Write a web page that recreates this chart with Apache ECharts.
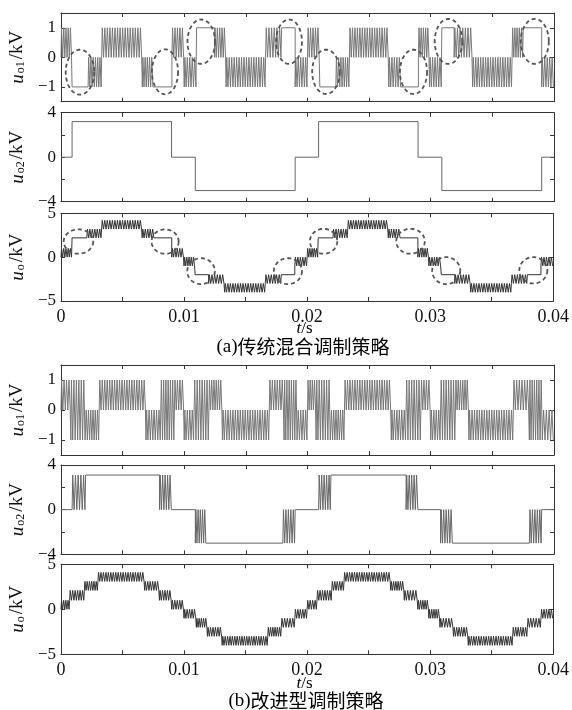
<!DOCTYPE html>
<html><head><meta charset="utf-8">
<script src="https://cdn.jsdelivr.net/npm/echarts@6/dist/echarts.min.js"></script>
<style>html,body{margin:0;padding:0;background:#fff}#c{width:572px;height:710px}</style>
</head><body><div id="c"></div>
<script>
// ---------- DATA ----------
const xTickValues = [0.005, 0.01, 0.015, 0.02, 0.025, 0.03, 0.035];
const xLabelValues = [0, 0.01, 0.02, 0.03, 0.04];
const yTicksO1 = [-1, 0, 1];
const yTicksO2Labels = [-4, 0, 4];
const yTicksO2 = [-4, -2, 0, 2, 4];
const yTicksO = [-5, 0, 5];

// segments: [t start, t end, low level, high level, pulse count]  (count 0 = constant at low level)
const A_uo1 = [
  [0, 0.0009, 0, 1, 5], [0.0009, 0.0022, -1, -1, 0], [0.0022, 0.0033, -1, 0, 6],
  [0.0033, 0.0066, 0, 1, 16], [0.0066, 0.0075, -1, 0, 5], [0.0075, 0.0090, -1, -1, 0],
  [0.0090, 0.0100, 0, 1, 5], [0.0100, 0.0110, -1, 0, 5], [0.0110, 0.01245, 1, 1, 0],
  [0.01245, 0.0134, 0, 1, 5], [0.0134, 0.0166, -1, 0, 16], [0.0166, 0.0179, 0, 1, 6],
  [0.0179, 0.0190, 1, 1, 0], [0.0190, 0.0200, -1, 0, 5], [0.0200, 0.0210, 0, 1, 5],
  [0.0210, 0.0223, -1, -1, 0], [0.0223, 0.0234, -1, 0, 6], [0.0234, 0.0266, 0, 1, 16],
  [0.0266, 0.0276, -1, 0, 5], [0.0276, 0.0290, -1, -1, 0], [0.0290, 0.0299, 0, 1, 5],
  [0.0299, 0.0309, -1, 0, 5], [0.0309, 0.0319, 1, 1, 0], [0.0319, 0.0334, 0, 1, 7],
  [0.0334, 0.0366, -1, 0, 16], [0.0366, 0.0375, 0, 1, 5], [0.0375, 0.0390, 1, 1, 0],
  [0.0390, 0.0400, -1, 0, 5]
];
const A_uo2 = [
  [0, 0.0009, 0, 0, 0], [0.0009, 0.00897, 3.2, 3.2, 0], [0.00897, 0.0109, 0, 0, 0],
  [0.0109, 0.0190, -3, -3, 0], [0.0190, 0.0209, 0, 0, 0], [0.0209, 0.02897, 3.2, 3.2, 0],
  [0.02897, 0.0309, 0, 0, 0], [0.0309, 0.0390, -3, -3, 0], [0.0390, 0.0400, 0, 0, 0]
];
const A_uo = [
  [0, 0.0009, 0, 1, 5], [0.0009, 0.0021, 2.2, 2.2, 0], [0.0021, 0.0033, 2.2, 3.2, 6],
  [0.0033, 0.0066, 3.2, 4.2, 16], [0.0066, 0.0076, 2.2, 3.2, 5], [0.0076, 0.0090, 2.2, 2.2, 0],
  [0.0090, 0.0100, 0, 1, 5], [0.0100, 0.0109, -1, 0, 5], [0.0109, 0.0120, -2, -2, 0],
  [0.0120, 0.0133, -3, -2, 6], [0.0133, 0.0166, -4, -3, 16], [0.0166, 0.0179, -3, -2, 6],
  [0.0179, 0.0190, -2, -2, 0], [0.0190, 0.0200, -1, 0, 5], [0.0200, 0.0209, 0, 1, 5],
  [0.0209, 0.0221, 2.2, 2.2, 0], [0.0221, 0.0233, 2.2, 3.2, 6], [0.0233, 0.0266, 3.2, 4.2, 16],
  [0.0266, 0.0276, 2.2, 3.2, 5], [0.0276, 0.0290, 2.2, 2.2, 0], [0.0290, 0.0299, 0, 1, 5],
  [0.0299, 0.0309, -1, 0, 5], [0.0309, 0.0320, -2, -2, 0], [0.0320, 0.0333, -3, -2, 6],
  [0.0333, 0.0366, -4, -3, 16], [0.0366, 0.0379, -3, -2, 6], [0.0379, 0.0390, -2, -2, 0],
  [0.0390, 0.0400, -1, 0, 5]
];
const B_uo1 = [
  [0, 0.0008, 0, 1, 4], [0.0008, 0.0020, -1, 1, 6], [0.0020, 0.0031, -1, 0, 6],
  [0.0031, 0.0069, 0, 1, 19], [0.0069, 0.0081, -1, 0, 6], [0.0081, 0.0092, -1, 1, 6],
  [0.0092, 0.0100, 0, 1, 4], [0.0100, 0.0108, -1, 0, 4], [0.0108, 0.0120, -1, 1, 6],
  [0.0120, 0.0131, 0, 1, 6], [0.0131, 0.0169, -1, 0, 19], [0.0169, 0.0181, 0, 1, 6],
  [0.0181, 0.0192, -1, 1, 6], [0.0192, 0.0200, -1, 0, 4], [0.0200, 0.0207, 0, 1, 4],
  [0.0207, 0.0219, -1, 1, 6], [0.0219, 0.0230, -1, 0, 6], [0.0230, 0.0268, 0, 1, 19],
  [0.0268, 0.0280, -1, 0, 6], [0.0280, 0.0292, -1, 1, 6], [0.0292, 0.0300, 0, 1, 4],
  [0.0300, 0.0308, -1, 0, 4], [0.0308, 0.0320, -1, 1, 6], [0.0320, 0.0331, 0, 1, 6],
  [0.0331, 0.0367, -1, 0, 18], [0.0367, 0.0380, 0, 1, 6], [0.0380, 0.0391, -1, 1, 6],
  [0.0391, 0.0400, -1, 0, 4]
];
const B_uo2 = [
  [0, 0.0009, 0, 0, 0], [0.0009, 0.0020, 0, 3.1, 5], [0.0020, 0.0080, 3.1, 3.1, 0],
  [0.0080, 0.0090, 0, 3.1, 5], [0.0090, 0.0109, 0, 0, 0], [0.0109, 0.0118, -3, 0, 5],
  [0.0118, 0.0180, -3, -3, 0], [0.0180, 0.0190, -3, 0, 5], [0.0190, 0.0209, 0, 0, 0],
  [0.0209, 0.0219, 0, 3.1, 5], [0.0219, 0.0280, 3.1, 3.1, 0], [0.0280, 0.0290, 0, 3.1, 5],
  [0.0290, 0.0308, 0, 0, 0], [0.0308, 0.0318, -3, 0, 5], [0.0318, 0.0380, -3, -3, 0],
  [0.0380, 0.0390, -3, 0, 5], [0.0390, 0.0400, 0, 0, 0]
];
const B_uo = [
  [0, 0.0007, 0, 1, 4], [0.0007, 0.0019, 1, 2.1, 6], [0.0019, 0.0030, 2.1, 3.1, 6],
  [0.0030, 0.0068, 3.1, 4.1, 19], [0.0068, 0.0080, 2.1, 3.1, 6], [0.0080, 0.0090, 1, 2.1, 5],
  [0.0090, 0.0100, 0, 1, 5], [0.0100, 0.0110, -1, 0, 5], [0.0110, 0.0119, -2, -1, 5],
  [0.0119, 0.0131, -3, -2, 6], [0.0131, 0.0168, -4, -3, 19], [0.0168, 0.0179, -3, -2, 6],
  [0.0179, 0.0190, -2, -1, 5], [0.0190, 0.0200, -1, 0, 5], [0.0200, 0.0208, 0, 1, 4],
  [0.0208, 0.0220, 1, 2.1, 6], [0.0220, 0.0230, 2.1, 3.1, 5], [0.0230, 0.0268, 3.1, 4.1, 19],
  [0.0268, 0.0279, 2.1, 3.1, 6], [0.0279, 0.0290, 1, 2.1, 5], [0.0290, 0.0299, 0, 1, 5],
  [0.0299, 0.0308, -1, 0, 5], [0.0308, 0.0319, -2, -1, 5], [0.0319, 0.0331, -3, -2, 6],
  [0.0331, 0.0367, -4, -3, 18], [0.0367, 0.0379, -3, -2, 6], [0.0379, 0.0390, -2, -1, 5],
  [0.0390, 0.0400, -1, 0, 5]
];
// dashed ellipse annotations: [t centre, value centre, t radius, value radius]
const ellipsesA1 = [
  [0.00154, -0.50, 0.00116, 0.76], [0.00844, -0.49, 0.00106, 0.76],
  [0.01138, 0.53, 0.00112, 0.75], [0.01850, 0.53, 0.00105, 0.75],
  [0.02150, -0.49, 0.00112, 0.75], [0.02860, -0.49, 0.00110, 0.75],
  [0.03144, 0.54, 0.00112, 0.76], [0.03844, 0.54, 0.00114, 0.76]
];
const ellipsesA3 = [
  [0.00142, 1.78, 0.00120, 1.39], [0.00846, 1.78, 0.00110, 1.39],
  [0.01138, -1.60, 0.00112, 1.48], [0.01844, -1.60, 0.00114, 1.48],
  [0.02134, 1.81, 0.00111, 1.42], [0.02840, 1.81, 0.00116, 1.42],
  [0.03130, -1.54, 0.00114, 1.54], [0.03838, -1.50, 0.00114, 1.50]
];

// ---------- BUILD ----------
function buildSteps(segs) {
  const pts = [];
  for (const [t0, t1, lo, hi, n] of segs) {
    if (!n) { pts.push([t0, lo], [t1, lo]); continue; }
    const p = (t1 - t0) / n;
    pts.push([t0, lo]);
    for (let k = 0; k < n; k++) {
      const a = t0 + k * p + p * 0.25, b = t0 + k * p + p * 0.75;
      pts.push([a, lo], [a, hi], [b, hi], [b, lo]);
    }
    pts.push([t1, lo]);
  }
  return pts;
}
const SERIF = '"Liberation Serif", "Times New Roman", "DejaVu Serif", serif';
const AX = '#333';
const grids = [
  { top: 13, height: 88.7 }, { top: 112.7, height: 89 }, { top: 213.3, height: 87.7 },
  { top: 365, height: 90 }, { top: 465, height: 89.3 }, { top: 564.3, height: 90 }
];
const plots = [
  { data: A_uo1, min: -1.5, max: 1.5, labels: yTicksO1, ticks: yTicksO1, sub: 'o1', color: '#777' },
  { data: A_uo2, min: -4, max: 4, labels: yTicksO2Labels, ticks: yTicksO2, sub: 'o2', color: '#666' },
  { data: A_uo, min: -5, max: 5, labels: yTicksO, ticks: yTicksO, sub: 'o', color: '#333', xl: true },
  { data: B_uo1, min: -1.5, max: 1.5, labels: yTicksO1, ticks: yTicksO1, sub: 'o1', color: '#777' },
  { data: B_uo2, min: -4, max: 4, labels: yTicksO2Labels, ticks: yTicksO2, sub: 'o2', color: '#666' },
  { data: B_uo, min: -5, max: 5, labels: yTicksO, ticks: yTicksO, sub: 'o', color: '#333', xl: true }
];
const fmtY = v => (v < 0 ? '\u2212' + Math.abs(v) : String(v));
const nameRich = {
  u: { fontFamily: SERIF, fontStyle: 'italic', fontSize: 19, color: '#111' },
  s: { fontFamily: SERIF, fontSize: 12, color: '#111', verticalAlign: 'bottom', padding: [0, 2, 0, 1] },
  k: { fontFamily: SERIF, fontSize: 19, color: '#111' }
};
const xAxis = [], yAxis = [], grid = [], series = [];
plots.forEach((p, i) => {
  grid.push({ left: 54.5, width: 499.5, top: grids[i].top, height: grids[i].height });
  [false, true].forEach(top => {
    xAxis.push({
      type: 'value', gridIndex: i, min: 0, max: 0.04, position: top ? 'top' : 'bottom',
      axisLine: { show: true, onZero: false, lineStyle: { color: AX, width: 1 } },
      axisTick: { show: true, inside: true, length: 4, customValues: xTickValues, lineStyle: { color: AX } },
      axisLabel: { show: !top && !!p.xl, customValues: xLabelValues, margin: 7,
        formatter: v => (v === 0 ? '0' : v.toFixed(2)), fontFamily: SERIF, fontSize: 18, color: '#111' },
      splitLine: { show: false }
    });
    yAxis.push({
      type: 'value', gridIndex: i, min: p.min, max: p.max, position: top ? 'right' : 'left',
      axisLine: { show: true, onZero: false, lineStyle: { color: AX, width: 1 } },
      axisTick: { show: true, inside: true, length: 4, customValues: p.ticks, lineStyle: { color: AX } },
      axisLabel: { show: !top, customValues: p.labels, formatter: fmtY, margin: 5,
        fontFamily: SERIF, fontSize: 17, color: '#111' },
      splitLine: { show: false },
      name: top ? '' : '{u|u}{s|' + p.sub + '}{k|/kV}', nameLocation: 'middle', nameGap: 27, nameRotate: 90,
      nameTextStyle: { rich: nameRich }
    });
  });
  series.push({
    type: 'line', xAxisIndex: 2 * i, yAxisIndex: 2 * i, data: buildSteps(p.data),
    showSymbol: false, symbol: 'none', silent: true,
    lineStyle: { color: p.color, width: 1 }, z: 2
  });
});
function ellipseRender(params, api) {
  const c = api.coord([api.value(0), api.value(1)]);
  const s = api.size([api.value(2), api.value(3)]);
  const pts = [];
  for (let k = 0; k <= 72; k++) {
    const a = k / 72 * Math.PI * 2;
    pts.push([c[0] + s[0] * Math.cos(a), c[1] + s[1] * Math.sin(a)]);
  }
  return { type: 'polyline', shape: { points: pts },
    style: { stroke: '#555', lineWidth: 1.8, lineDash: [4, 3], fill: null } };
}
series.push({ type: 'custom', xAxisIndex: 0, yAxisIndex: 0, data: ellipsesA1, renderItem: ellipseRender,
  encode: { x: 0, y: 1 }, clip: false, silent: true, z: 5 });
series.push({ type: 'custom', xAxisIndex: 4, yAxisIndex: 4, data: ellipsesA3, renderItem: ellipseRender,
  encode: { x: 0, y: 1 }, clip: false, silent: true, z: 5 });

const tsStyle = {
  text: '{i|t}{n|/s}',
  rich: { i: { fontFamily: SERIF, fontStyle: 'italic', fontSize: 17, color: '#111' },
          n: { fontFamily: SERIF, fontSize: 17, color: '#111' } },
  textAlign: 'center', textVerticalAlign: 'middle'
};
const capRich = {
  l: { fontFamily: SERIF, fontSize: 19, color: '#111' },
  c: { fontFamily: '"Noto Sans CJK SC", sans-serif', fontSize: 19, color: '#111' }
};
const option = {
  animation: false,
  backgroundColor: '#fff',
  grid, xAxis, yAxis, series,
  graphic: [
    { type: 'text', x: 304.5, y: 329, silent: true, style: tsStyle },
    { type: 'text', x: 304.5, y: 684, silent: true, style: tsStyle },
    { type: 'text', x: 303, y: 347, silent: true,
      style: { text: '{l|(a)}{c|传统混合调制策略}', rich: capRich, textAlign: 'center', textVerticalAlign: 'middle' } },
    { type: 'text', x: 306, y: 701, silent: true,
      style: { text: '{l|(b)}{c|改进型调制策略}', rich: capRich, textAlign: 'center', textVerticalAlign: 'middle' } }
  ]
};
const chart = echarts.init(document.getElementById('c'));
chart.setOption(option);
</script>
</body></html>
